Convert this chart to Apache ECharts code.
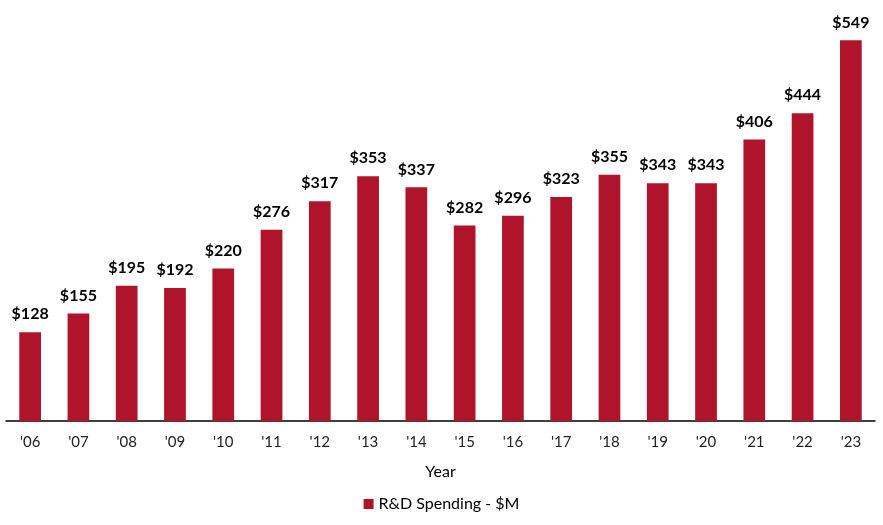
<!DOCTYPE html>
<html>
<head>
<meta charset="utf-8">
<script src="https://cdn.jsdelivr.net/npm/echarts@6/dist/echarts.min.js"></script>
<style>
  html, body { margin: 0; padding: 0; background: #fff; }
  #chart { width: 883px; height: 525px; }
</style>
</head>
<body>
<div id="chart"></div>
<script>
const years = ["'06", "'07", "'08", "'09", "'10", "'11", "'12", "'13", "'14", "'15", "'16", "'17", "'18", "'19", "'20", "'21", "'22", "'23"]
const spending = [128, 155, 195, 192, 220, 276, 317, 353, 337, 282, 296, 323, 355, 343, 343, 406, 444, 549]

const chart = echarts.init(document.getElementById('chart'))
const barColor = '#AF142B'

const option = {
  animation: false,
  textStyle: { fontFamily: 'Lato, "Open Sans", sans-serif' },
  grid: { left: 6, right: 8, top: 5, bottom: 104 },
  legend: {
    bottom: 8,
    left: 'center',
    icon: 'rect',
    itemWidth: 10,
    itemHeight: 10,
    itemGap: 6,
    textStyle: { fontSize: 16, color: '#000' },
    data: ['R&D Spending - $M']
  },
  xAxis: {
    type: 'category',
    data: years,
    name: 'Year',
    nameLocation: 'middle',
    nameGap: 43,
    nameTextStyle: { fontSize: 16, color: '#000' },
    axisLine: { lineStyle: { color: '#000', width: 1.5 } },
    axisTick: { show: false },
    axisLabel: { fontSize: 15, color: '#222', margin: 14 }
  },
  yAxis: {
    type: 'value',
    min: 0,
    max: 600,
    show: false,
    splitLine: { show: false }
  },
  series: [{
    name: 'R&D Spending - $M',
    type: 'bar',
    data: spending,
    barWidth: '45%',
    itemStyle: { color: barColor },
    label: {
      show: true,
      position: 'top',
      distance: 10,
      fontSize: 16,
      fontWeight: 'bold',
      color: '#000',
      formatter: p => '$' + p.value
    }
  }]
}

chart.setOption(option)
</script>
</body>
</html>
